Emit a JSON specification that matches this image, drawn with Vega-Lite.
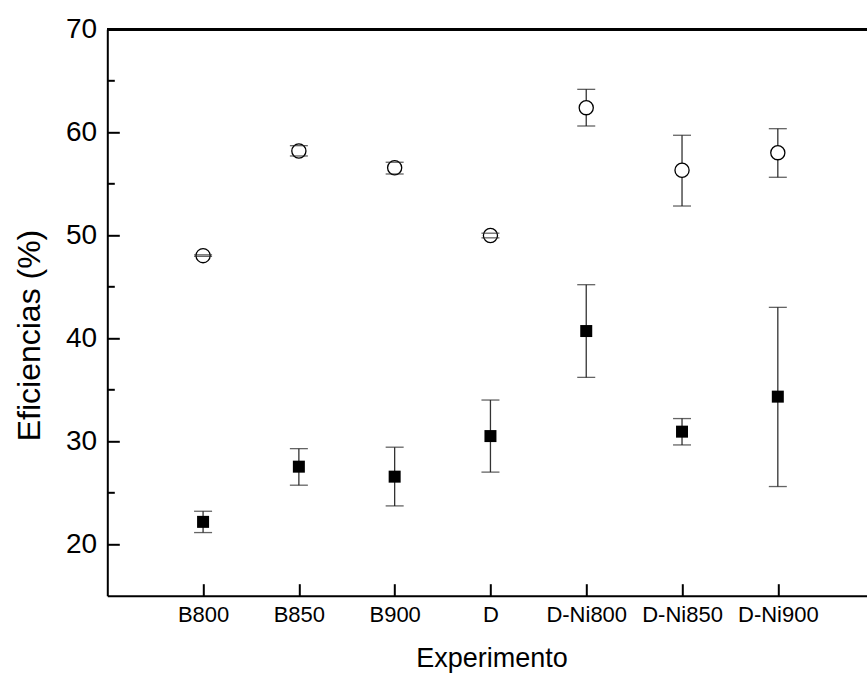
{
  "$schema": "https://vega.github.io/schema/vega-lite/v6.json",
  "width": 760,
  "height": 566.4,
  "autosize": {"type": "none"},
  "padding": {"left": 107.3, "top": 29.3, "right": 0, "bottom": 77.3},
  "background": "white",
  "config": {
    "view": {"stroke": null},
    "font": "Liberation Sans",
    "axis": {
      "grid": false,
      "domainColor": "black",
      "domainWidth": 2,
      "tickColor": "black",
      "tickWidth": 2,
      "labelColor": "black",
      "titleColor": "black",
      "titleFontWeight": "normal",
      "labelFont": "Liberation Sans",
      "titleFont": "Liberation Sans"
    }
  },
  "data": {
    "values": [
      {"experimento": "B800", "serie": "s1", "eficiencia": 22.17, "min": 21.13, "max": 23.2},
      {"experimento": "B850", "serie": "s1", "eficiencia": 27.53, "min": 25.73, "max": 29.28},
      {"experimento": "B900", "serie": "s1", "eficiencia": 26.56, "min": 23.72, "max": 29.42},
      {"experimento": "D", "serie": "s1", "eficiencia": 30.5, "min": 27.0, "max": 34.0},
      {"experimento": "D-Ni800", "serie": "s1", "eficiencia": 40.7, "min": 36.2, "max": 45.2},
      {"experimento": "D-Ni850", "serie": "s1", "eficiencia": 30.93, "min": 29.64, "max": 32.2},
      {"experimento": "D-Ni900", "serie": "s1", "eficiencia": 34.33, "min": 25.6, "max": 43.0},
      {"experimento": "B800", "serie": "s2", "eficiencia": 48.02, "min": 47.95, "max": 48.1},
      {"experimento": "B850", "serie": "s2", "eficiencia": 58.18, "min": 57.7, "max": 58.7},
      {"experimento": "B900", "serie": "s2", "eficiencia": 56.56, "min": 55.95, "max": 57.09},
      {"experimento": "D", "serie": "s2", "eficiencia": 49.98, "min": 49.75, "max": 50.2},
      {"experimento": "D-Ni800", "serie": "s2", "eficiencia": 62.39, "min": 60.61, "max": 64.17},
      {"experimento": "D-Ni850", "serie": "s2", "eficiencia": 56.31, "min": 52.84, "max": 59.71},
      {"experimento": "D-Ni900", "serie": "s2", "eficiencia": 58.02, "min": 55.63, "max": 60.35}
    ]
  },
  "resolve": {"axis": {"y": "independent"}},
  "layer": [
    {
      "layer": [
        {
          "mark": {"type": "rule", "color": "#333333", "strokeWidth": 1.3},
          "encoding": {
            "x": {
              "field": "experimento",
              "type": "nominal",
              "sort": ["B800", "B850", "B900", "D", "D-Ni800", "D-Ni850", "D-Ni900"],
              "scale": {"type": "point", "padding": 0.967, "align": 0.517},
              "axis": {
                "title": "Experimento",
                "titleFontSize": 27,
                "titleX": 384.2,
                "titleY": 71,
                "titleBaseline": "alphabetic",
                "titleAlign": "center",
                "labelFontSize": 22,
                "labelAngle": 0,
                "tickSize": -12,
                "labelPadding": 21
              }
            },
            "y": {
              "field": "min",
              "type": "quantitative",
              "title": "Eficiencias (%)",
              "scale": {"domain": [15, 70], "nice": false, "zero": false},
              "axis": {
                "orient": "left",
                "values": [20, 30, 40, 50, 60, 70],
                "tickSize": -12,
                "labelFontSize": 28,
                "labelPadding": 22.6,
                "titleFontSize": 32,
                "titleX": -78,
                "titleY": 305.7,
                "titleAngle": -90,
                "titleBaseline": "middle",
                "titleAlign": "center"
              }
            },
            "y2": {"field": "max"}
          }
        },
        {
          "transform": [{"filter": "datum.serie === 's1'"}],
          "mark": {"type": "point", "shape": "square", "filled": true, "color": "black", "size": 144, "opacity": 1},
          "encoding": {
            "x": {"field": "experimento", "type": "nominal", "sort": ["B800", "B850", "B900", "D", "D-Ni800", "D-Ni850", "D-Ni900"], "title": "Experimento"},
            "y": {"field": "eficiencia", "type": "quantitative", "title": "Eficiencias (%)"}
          }
        },
        {
          "transform": [{"filter": "datum.serie === 's2'"}],
          "mark": {"type": "point", "shape": "circle", "filled": true, "fill": "white", "stroke": "black", "strokeWidth": 1.3, "size": 200, "opacity": 1},
          "encoding": {
            "x": {"field": "experimento", "type": "nominal", "sort": ["B800", "B850", "B900", "D", "D-Ni800", "D-Ni850", "D-Ni900"], "title": "Experimento"},
            "y": {"field": "eficiencia", "type": "quantitative", "title": "Eficiencias (%)"}
          }
        },
        {
          "mark": {"type": "tick", "color": "#222222", "size": 18, "thickness": 1.3},
          "encoding": {
            "x": {"field": "experimento", "type": "nominal", "sort": ["B800", "B850", "B900", "D", "D-Ni800", "D-Ni850", "D-Ni900"], "title": "Experimento"},
            "y": {"field": "min", "type": "quantitative", "title": "Eficiencias (%)"}
          }
        },
        {
          "mark": {"type": "tick", "color": "#222222", "size": 18, "thickness": 1.3},
          "encoding": {
            "x": {"field": "experimento", "type": "nominal", "sort": ["B800", "B850", "B900", "D", "D-Ni800", "D-Ni850", "D-Ni900"], "title": "Experimento"},
            "y": {"field": "max", "type": "quantitative", "title": "Eficiencias (%)"}
          }
        }
      ]
    },
    {
      "mark": {"type": "rule", "color": "black", "strokeWidth": 2},
      "encoding": {
        "y": {
          "datum": 70,
          "type": "quantitative",
          "axis": {
            "orient": "left",
            "values": [25, 35, 45, 55, 65],
            "tickSize": -7,
            "labels": false,
            "domain": false,
            "title": null
          }
        }
      }
    }
  ]
}
